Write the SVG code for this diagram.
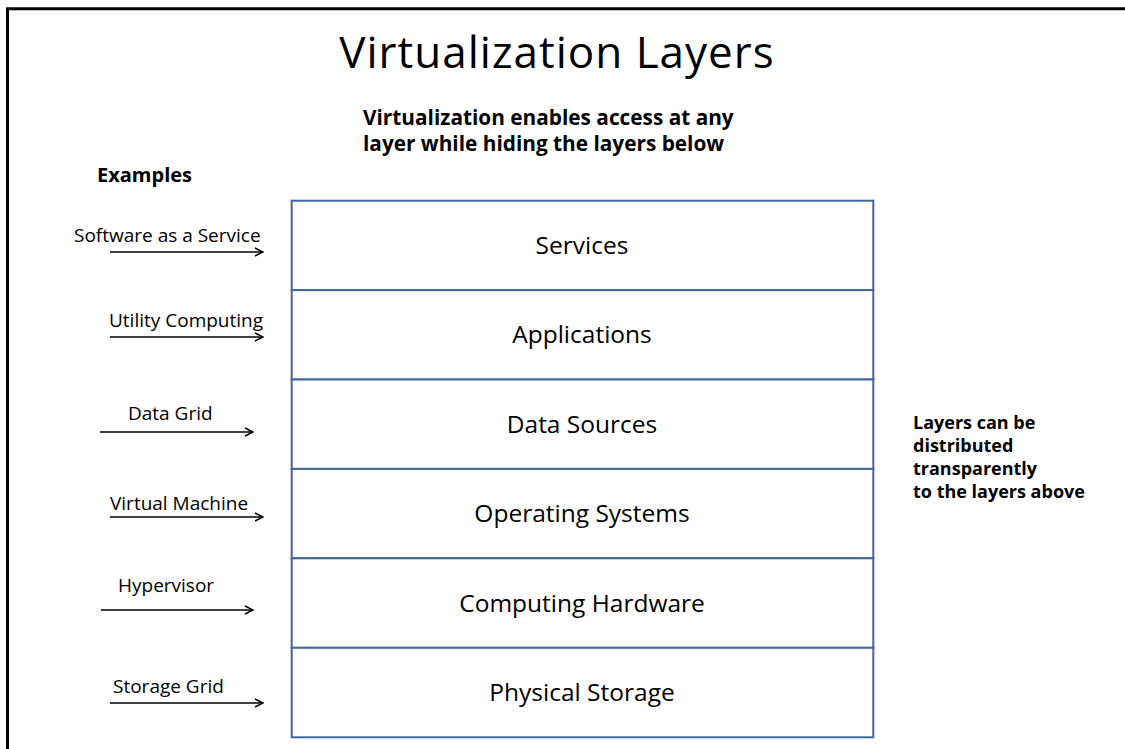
<svg xmlns="http://www.w3.org/2000/svg" width="1125" height="749" viewBox="0 0 1125 749">
  <defs>
    <marker id="open-arrow" viewBox="0 0 10 10" refX="9" refY="5" markerWidth="10" markerHeight="10" markerUnits="userSpaceOnUse" orient="auto">
      <path d="M1,1 L9,5 L1,9" fill="none" stroke="#000" stroke-width="1.4"/>
    </marker>
  </defs>
  <style>
    text { font-family: "Open Sans", "Noto Sans", "Liberation Sans", sans-serif; fill: #000; }
    .title { font-size: 44px; letter-spacing: 1px; text-anchor: middle; }
    .sub { font-size: 20.8px; font-weight: bold; }
    .note { font-size: 18px; font-weight: bold; }
    .head { font-size: 20px; font-weight: bold; }
    .ex { font-size: 19px; }
    .layer rect { fill: #fff; stroke: #41679b; stroke-width: 2; }
    .layer text { font-size: 24.5px; text-anchor: middle; }
    .conn line { stroke: #000; stroke-width: 1.4; marker-end: url(#open-arrow); }
    .frame { fill: none; stroke: #000; stroke-width: 3; }
  </style>

  <rect width="1125" height="749" fill="#fff"/>
  <!-- page frame: top and left edges -->
  <path class="frame" d="M7.5,749 V8.7 H1125"/>

  <text class="title" x="557" y="68">Virtualization Layers</text>
  <text class="sub" x="363" y="125">Virtualization enables access at any</text>
  <text class="sub" x="363" y="151">layer while hiding the layers below</text>
  <text class="head" x="97" y="182">Examples</text>

  <!-- layer stack -->
  <g id="services" class="layer">
    <rect x="291.7" y="200.7" width="581.6" height="89.4"/>
    <text x="582" y="253.5">Services</text>
  </g>
  <g id="applications" class="layer">
    <rect x="291.7" y="290.1" width="581.6" height="89.4"/>
    <text x="582" y="343">Applications</text>
  </g>
  <g id="data-sources" class="layer">
    <rect x="291.7" y="379.5" width="581.6" height="89.4"/>
    <text x="582" y="432.5">Data Sources</text>
  </g>
  <g id="operating-systems" class="layer">
    <rect x="291.7" y="468.9" width="581.6" height="89.4"/>
    <text x="582" y="522">Operating Systems</text>
  </g>
  <g id="computing-hardware" class="layer">
    <rect x="291.7" y="558.3" width="581.6" height="89.5"/>
    <text x="582" y="611.5">Computing Hardware</text>
  </g>
  <g id="physical-storage" class="layer">
    <rect x="291.7" y="647.8" width="581.6" height="89.5"/>
    <text x="582" y="701">Physical Storage</text>
  </g>

  <!-- example labels -->
  <g id="saas"><text class="ex" x="74" y="242">Software as a Service</text></g>
  <g id="utility"><text class="ex" x="109" y="327">Utility Computing</text></g>
  <g id="data-grid"><text class="ex" x="128" y="420">Data Grid</text></g>
  <g id="virtual-machine"><text class="ex" x="110" y="510">Virtual Machine</text></g>
  <g id="hypervisor"><text class="ex" x="118" y="592">Hypervisor</text></g>
  <g id="storage-grid"><text class="ex" x="113" y="693">Storage Grid</text></g>

  <!-- side note -->
  <g id="side-note">
    <text class="note" x="913" y="429">Layers can be</text>
    <text class="note" x="913" y="452">distributed</text>
    <text class="note" x="913" y="475">transparently</text>
    <text class="note" x="913" y="498">to the layers above</text>
  </g>

  <!-- connectors -->
  <g class="conn">
    <line x1="110" y1="252" x2="263" y2="252"/>
    <line x1="110" y1="337" x2="263" y2="337"/>
    <line x1="100" y1="432" x2="253" y2="432"/>
    <line x1="110" y1="517" x2="263" y2="517"/>
    <line x1="101" y1="610" x2="253" y2="610"/>
    <line x1="110" y1="703" x2="263" y2="703"/>
  </g>
</svg>
